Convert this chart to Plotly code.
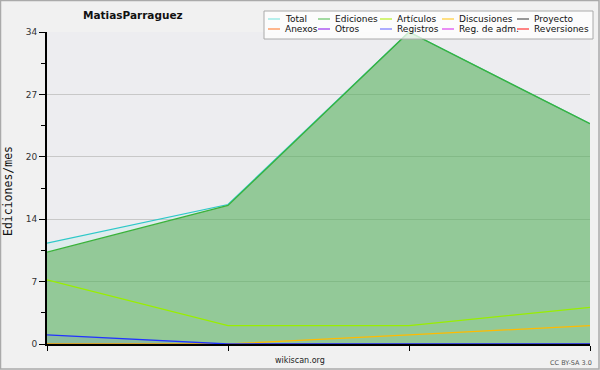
import plotly.graph_objects as go

# ---- data ----
months = [0, 1, 2, 3]
series_names = ["Total", "Ediciones", "Artículos", "Discusiones", "Proyecto",
                "Anexos", "Otros", "Registros", "Reg. de adm.", "Reversiones"]
total = [11, 15.2, 34, 24]
ediciones = [10, 15.1, 34, 24]
articulos = [7, 2, 2, 4]
discusiones = [0, 0, 1, 2]
proyecto = [0, 0, 0, 0]
anexos = [0, 0, 0, 0]
otros = [0, 0, 0, 0]
registros = [1, 0, 0, 0]
reg_adm = [0, 0, 0, 0]
reversiones = [0, 0, 0, 0]
ytick_vals = [0, 6.8, 13.6, 20.4, 27.2, 34]
ytick_text = ["0", "7", "14", "20", "27", "34"]

legend_colors = ["#88E6E2", "#66C466", "#B8EE22", "#FFCC33", "#555555",
                 "#FF8844", "#9933EE", "#7777FF", "#DD44EE", "#FF3333"]

fig = go.Figure()

# background series at zero
for vals, col in [(proyecto, "#555555"), (anexos, "#FF8844"), (otros, "#9933EE"),
                  (reg_adm, "#DD44EE"), (reversiones, "#FF3333")]:
    fig.add_trace(go.Scatter(x=months, y=vals, mode="lines",
                             line=dict(color=col, width=1), showlegend=False))

fig.add_trace(go.Scatter(x=months, y=total, mode="lines", fill="tozeroy",
                         fillcolor="rgba(64,224,208,0.08)",
                         line=dict(color="#2EC8C8", width=1.3), showlegend=False))
fig.add_trace(go.Scatter(x=months, y=ediciones, mode="lines", fill="tozeroy",
                         fillcolor="rgba(83,173,82,0.55)",
                         line=dict(color="#3AB23A", width=1.3), showlegend=False))
fig.add_trace(go.Scatter(x=months, y=articulos, mode="lines",
                         line=dict(color="#99EE00", width=1.3), showlegend=False))
fig.add_trace(go.Scatter(x=months, y=discusiones, mode="lines",
                         line=dict(color="#FFBB00", width=1.3), showlegend=False))
fig.add_trace(go.Scatter(x=months, y=registros, mode="lines", fill="tozeroy",
                         fillcolor="rgba(40,40,255,0.08)",
                         line=dict(color="#2233FF", width=1.3), showlegend=False))

W, H = 600, 370
L, R, T, B = 47, 10, 32, 26
pw, ph = W - L - R, H - T - B


def px_x(x):
    return (x - L) / pw


def px_y(y):
    return (H - B - y) / ph


shapes = []
annotations = []

# outer border
shapes.append(dict(type="rect", xref="paper", yref="paper",
                   x0=px_x(0.5), x1=px_x(W - 1), y0=px_y(H - 1), y1=px_y(0.5),
                   line=dict(color="#AAAAAA", width=1.5), fillcolor="rgba(0,0,0,0)",
                   layer="above"))

# legend box
shapes.append(dict(type="rect", xref="paper", yref="paper",
                   x0=px_x(264), x1=px_x(593), y0=px_y(39), y1=px_y(11),
                   line=dict(color="#AAAAAA", width=1), fillcolor="rgba(255,255,255,0.75)",
                   layer="above"))
col_x = [268, 318, 380, 442, 517]
row_y = [19, 29]
for i, name in enumerate(series_names):
    r, c = divmod(i, 5)
    x0 = col_x[c]
    y = row_y[r]
    shapes.append(dict(type="line", xref="paper", yref="paper",
                       x0=px_x(x0), x1=px_x(x0 + 12), y0=px_y(y), y1=px_y(y),
                       line=dict(color=legend_colors[i], width=1.2), layer="above"))
    annotations.append(dict(xref="paper", yref="paper", x=px_x(x0 + 15), y=px_y(y),
                            text=name, showarrow=False, xanchor="left", yanchor="middle",
                            font=dict(family="DejaVu Sans", size=9, color="#111111")))

annotations.append(dict(xref="paper", yref="paper", x=px_x(133), y=px_y(15),
                        text="<b>MatiasParraguez</b>", showarrow=False,
                        xanchor="center", yanchor="middle",
                        font=dict(family="DejaVu Sans", size=10.5, color="#111111")))
annotations.append(dict(xref="paper", yref="paper", x=px_x(300), y=px_y(360),
                        text="wikiscan.org", showarrow=False,
                        xanchor="center", yanchor="middle",
                        font=dict(family="DejaVu Sans", size=8, color="#222222")))
annotations.append(dict(xref="paper", yref="paper", x=px_x(571), y=px_y(363),
                        text="CC BY-SA 3.0", showarrow=False,
                        xanchor="center", yanchor="middle",
                        font=dict(family="DejaVu Sans", size=6.5, color="#555555")))
annotations.append(dict(xref="paper", yref="paper", x=px_x(8), y=px_y(191),
                        text="Ediciones/mes", showarrow=False, textangle=-90,
                        xanchor="center", yanchor="middle",
                        font=dict(family="DejaVu Sans Mono", size=11.5, color="#111111")))

fig.update_layout(
    width=W, height=H,
    margin=dict(l=L, r=R, t=T, b=B),
    paper_bgcolor="#F1F1F1",
    plot_bgcolor="#EDEDF0",
    showlegend=False,
    shapes=shapes,
    annotations=annotations,
    xaxis=dict(range=[0, 3], tickvals=months, showticklabels=False,
               ticks="outside", ticklen=5, tickcolor="#000000",
               showgrid=False, zeroline=False, showline=True,
               linecolor="#000000", linewidth=2, fixedrange=True),
    yaxis=dict(range=[0, 34], tickvals=ytick_vals, ticktext=ytick_text,
               ticks="outside", ticklen=6, tickcolor="#000000",
               minor=dict(tick0=3.4, dtick=6.8, ticks="outside", ticklen=4,
                          tickcolor="#000000", showgrid=False),
               showgrid=True, gridcolor="#C8C8C8", gridwidth=1,
               zeroline=False, showline=True, linecolor="#000000", linewidth=2,
               tickfont=dict(family="DejaVu Sans", size=9, color="#333333"),
               fixedrange=True),
)

fig.write_html("out.html", config={"displayModeBar": False},
               post_script="document.body.style.margin='0';document.body.style.overflow='hidden';")
